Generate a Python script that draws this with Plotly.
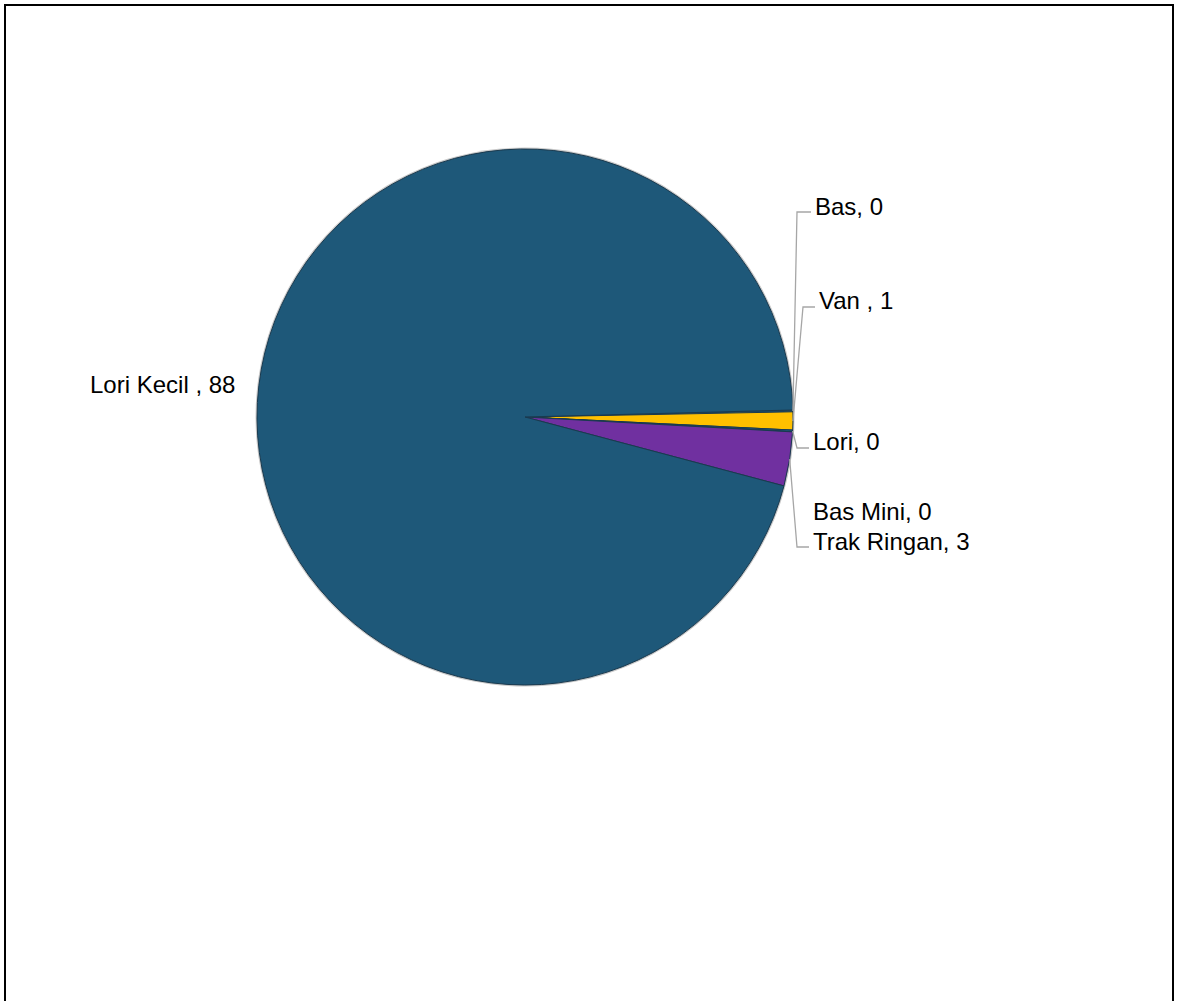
import math
import plotly.graph_objects as go

# ---- data ----
categories = ["Bas", "Van ", "Lori", "Bas Mini", "Trak Ringan", "Lori Kecil "]
values = [0.1, 1, 0.1, 0, 3, 88]
colors = ["#1E5879", "#FFC000", "#1E5879", "#1E5879", "#7030A0", "#1E5879"]

# ---- layout constants (pixels) ----
W, H = 1177, 1001
CX, CY, R = 525, 417, 268
ROTATION = 88.5
FONT = dict(family="Liberation Sans, Arial, sans-serif", size=24, color="#000000")

# label anchor (x, y, xanchor) and leader elbow (x, y) or None
label_pos = {
    "Bas": (813, 206, "left", (797, 212)),
    "Van ": (817, 301, "left", (803, 307)),
    "Lori": (811, 441, "left", (797, 448)),
    "Bas Mini": (811, 511, "left", None),
    "Trak Ringan": (811, 541, "left", (797, 547)),
    "Lori Kecil ": (237, 385, "right", None),
}


def px(x):
    return x / W


def py(y):
    return 1 - y / H


dom = dict(x=[px(CX - R), px(CX + R)], y=[py(CY + R), py(CY - R)])
dom_outline = dict(x=[px(CX - R - 1.5), px(CX + R + 1.5)],
                   y=[py(CY + R + 1.5), py(CY - R - 1.5)])

fig = go.Figure()
# light grey rim under the pie
fig.add_trace(
    go.Pie(
        values=[1], labels=[""], sort=False, textinfo="none", hoverinfo="skip",
        marker=dict(colors=["#C8C8C8"], line=dict(width=0)),
        showlegend=False, domain=dom_outline,
    )
)
fig.add_trace(
    go.Pie(
        labels=categories,
        values=values,
        sort=False,
        direction="clockwise",
        rotation=ROTATION,
        marker=dict(colors=colors, line=dict(color="#1a3a4f", width=1)),
        textinfo="none",
        hoverinfo="label+value",
        showlegend=False,
        domain=dom,
    )
)

total = sum(values)
annotations = []
shapes = []
cum = 0.0
for name, v in zip(categories, values):
    mid = math.radians(ROTATION + (cum + v / 2) / total * 360)
    cum += v
    lx, ly, xa, elbow = label_pos[name]
    annotations.append(
        dict(
            x=px(lx), y=py(ly), xref="paper", yref="paper",
            text=f"{name}, {round(v)}", showarrow=False,
            xanchor=xa, yanchor="middle", font=FONT,
        )
    )
    if elbow is not None:
        ex = CX + R * math.sin(mid)
        ey = CY - R * math.cos(mid)
        path = (
            f"M {px(lx - 2)} {py(elbow[1])} L {px(elbow[0])} {py(elbow[1])} "
            f"L {px(ex)} {py(ey)}"
        )
        shapes.append(
            dict(type="path", path=path, xref="paper", yref="paper",
                 line=dict(color="#A6A6A6", width=1.3))
        )

# chart frame
shapes.append(
    dict(type="rect", xref="paper", yref="paper",
         x0=px(5), x1=px(1173), y0=-0.05, y1=py(5),
         line=dict(color="#000000", width=2))
)

fig.update_layout(
    width=W, height=H,
    margin=dict(l=0, r=0, t=0, b=0),
    paper_bgcolor="#FFFFFF",
    plot_bgcolor="#FFFFFF",
    annotations=annotations,
    shapes=shapes,
)

fig.write_html(
    "out.html",
    config={"displayModeBar": False},
    post_script="document.body.style.margin='0';document.body.style.overflow='hidden';",
)
